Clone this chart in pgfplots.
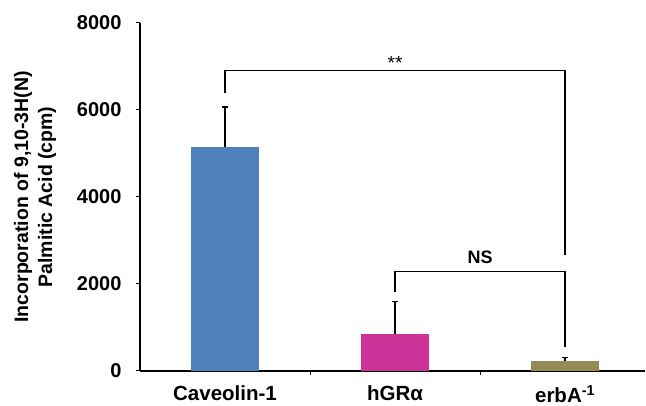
\documentclass[border=0pt]{standalone}
\usepackage{pgfplots}
\pgfplotsset{compat=1.18}
\usepackage{fontspec}
\setmainfont{Liberation Sans}
\definecolor{cav}{RGB}{79,129,189}
\definecolor{hgr}{RGB}{204,51,153}
\definecolor{erb}{RGB}{148,138,84}
\begin{document}
\begin{tikzpicture}
\useasboundingbox (-140pt,-35pt) rectangle (506pt,371pt);
\begin{axis}[
  scale only axis, width=505pt, height=348pt,
  xmin=-0.5, xmax=2.47, ymin=0, ymax=8000,
  clip=false,
  axis x line*=bottom, axis y line*=left,
  axis line style={line width=1.3pt,-},
  xtick={0,1,2},
  xticklabels={Caveolin-1,hGRα,erbA\textsuperscript{-1}},
  major x tick style={draw=none},
  minor xtick={0.5,1.5},
  minor x tick style={line width=1pt,black},
  minor tick length=4pt,
  ytick={0,2000,4000,6000,8000},
  major tick length=4pt,
  y tick style={line width=1pt,black},
  tick align=outside,
  /pgf/number format/assume math mode=true,
  /pgf/number format/1000 sep={},
  xticklabel style={font=\bfseries\fontsize{20.5}{24}\selectfont, yshift=-7pt},
  yticklabel style={font=\bfseries\fontsize{20}{24}\selectfont, xshift=-11pt},
  ylabel={Incorporation of 9,10-3H(N)\\Palmitic Acid (cpm)},
  ylabel style={at={([xshift=-105pt]axis description cs:0,0.5)}, anchor=center,
    align=center, font=\bfseries\fontsize{19.5}{24}\selectfont},
]
\addplot[ybar, bar shift=0pt, bar width=68pt, fill=cav, draw=none,
  error bars/.cd, y dir=plus, y explicit,
  error bar style={line width=1.3pt,black},
  error mark options={line width=1.3pt,black,mark size=3pt,rotate=90}]
  coordinates {(0,5150) +- (0,920)};
\addplot[ybar, bar shift=0pt, bar width=68pt, fill=hgr, draw=none,
  error bars/.cd, y dir=plus, y explicit,
  error bar style={line width=1.3pt,black},
  error mark options={line width=1.3pt,black,mark size=3pt,rotate=90}]
  coordinates {(1,850) +- (0,740)};
\addplot[ybar, bar shift=0pt, bar width=68pt, fill=erb, draw=none,
  error bars/.cd, y dir=plus, y explicit,
  error bar style={line width=1.3pt,black},
  error mark options={line width=1.3pt,black,mark size=3pt,rotate=90}]
  coordinates {(2,237) +- (0,70)};
\draw[line width=1.3pt] (axis cs:0,6400) |- (axis cs:2,6900) -- (axis cs:2,2670);
\draw[line width=1.3pt] (axis cs:1,1820) |- (axis cs:2,2283) -- (axis cs:2,560);
\node[font=\fontsize{19}{23}\selectfont] at (axis cs:1,7080) {**};
\node[font=\bfseries\fontsize{18}{22}\selectfont] at (axis cs:1.5,2620) {NS};
\end{axis}
\end{tikzpicture}
\end{document}
